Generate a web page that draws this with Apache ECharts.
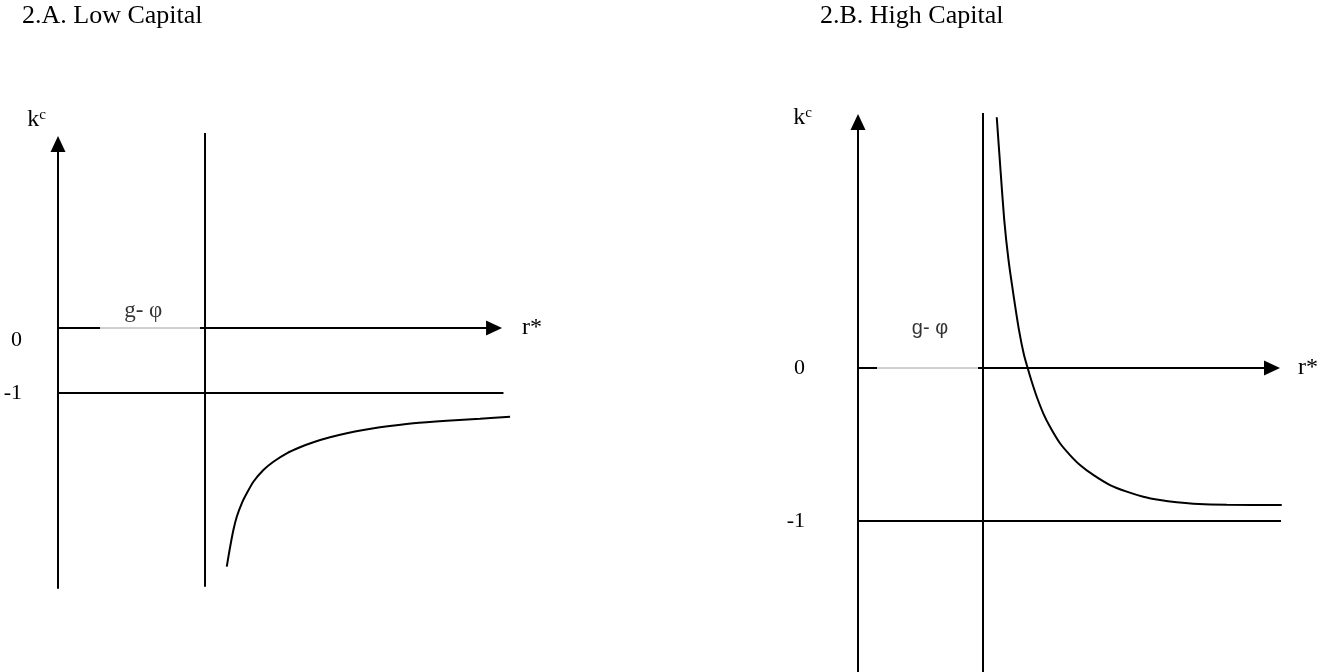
<!DOCTYPE html>
<html>

<head>
    <meta charset="utf-8">
    <title>Low / High Capital</title>
    <style>
        html, body { margin: 0; background: #fff; }
    </style>
</head>

<body>

    <div id="chart" style="width: 1338px;height: 672px;"></div>

    <script src="https://cdn.jsdelivr.net/npm/echarts@6.0.0/dist/echarts.min.js"></script>
    <script>
        const chart = echarts.init(document.getElementById('chart'));

        // panel titles
        const titles = ['2.A. Low Capital', '2.B. High Capital'];
        // labels
        const kTicks = [0, -1];
        const gapLabel = 'g- φ';
        // r* = g - φ (vertical asymptote), in both panels
        const gPhi = 1;

        // 2.A low capital: curve under -1
        const lowR = [1.148, 1.167, 1.193, 1.216, 1.250, 1.284, 1.329, 1.397, 1.465, 1.556, 1.646, 1.737,
            1.850, 1.964, 2.077, 2.190, 2.417, 2.644, 2.871, 3.075];
        const lowK = [-3.672, -3.415, -3.108, -2.903, -2.697, -2.543, -2.365, -2.185, -2.057, -1.928, -1.835, -1.758,
            -1.682, -1.620, -1.569, -1.528, -1.466, -1.426, -1.395, -1.365];
        const lowAsymptoteK = [3.0, -3.98];   // vertical line top / bottom
        const lowMinusOneR = [0, 3.03];       // k = -1 line
        const lowAxisEnd = 2.966;             // end of r* arrow
        const lowGapR = [0.286, 0.966];       // thin grey part of r* axis
        const lowLabelR = 0.58;

        // 2.B high capital: curve above -1
        const highR = [1.110, 1.140, 1.170, 1.204, 1.244, 1.288, 1.328, 1.362, 1.394, 1.430, 1.482, 1.536,
            1.616, 1.696, 1.776, 1.882, 2.016, 2.150, 2.282, 2.416, 2.550, 2.682, 2.950, 3.390];
        const highK = [1.639, 1.294, 0.967, 0.706, 0.477, 0.248, 0.085, -0.013, -0.100, -0.188, -0.296, -0.384,
            -0.492, -0.569, -0.634, -0.699, -0.765, -0.808, -0.841, -0.863, -0.878, -0.887, -0.894, -0.895];
        const highAsymptoteK = [1.667, -1.987];
        const highMinusOneR = [0, 3.384];
        const highAxisEnd = 3.312;
        const highGapR = [0.152, 0.960];
        const highLabelR = 0.576;

        const font = 'Liberation Serif, Times New Roman, serif';
        const black = '#000';

        function xAxisFor(idx, max, labelGap) {
            return {
                gridIndex: idx,
                type: 'value',
                min: 0,
                max: max,
                axisLine: { show: false },
                axisTick: { show: false },
                axisLabel: { show: false },
                splitLine: { show: false },
                name: 'r*',
                nameLocation: 'end',
                nameGap: labelGap,
                nameTextStyle: {
                    color: black, fontFamily: font, fontSize: 24,
                    padding: [idx === 0 ? 12 : 4, 0, 0, 0]
                }
            };
        }

        function yAxisFor(idx, min, max, margin, nameGap, namePad) {
            return {
                gridIndex: idx,
                type: 'value',
                min: min,
                max: max,
                axisLine: {
                    show: true,
                    symbol: ['none', 'triangle'],
                    symbolSize: [15, 16],
                    lineStyle: { color: black, width: 2 }
                },
                axisTick: { show: false },
                splitLine: { show: false },
                axisLabel: {
                    show: true,
                    customValues: kTicks,
                    margin: margin,
                    color: black,
                    fontFamily: font,
                    fontSize: 22,
                    // in 2.A the "0" sits a little below the r* axis
                    formatter: v => (idx === 0 && v === 0) ? '{low|0}' : String(v),
                    rich: { low: { fontFamily: font, fontSize: 22, color: black, padding: [24, 0, 0, 0] } }
                },
                name: '{k|k}{c|c}',
                nameLocation: 'end',
                nameGap: nameGap,
                nameTextStyle: {
                    align: 'right',
                    padding: [0, namePad, 0, 0],
                    rich: {
                        k: { fontFamily: font, fontSize: 24, color: black },
                        c: { fontFamily: font, fontSize: 15, color: black, verticalAlign: 'top' }
                    }
                }
            };
        }

        function line(idx, data, color, width) {
            return {
                type: 'line',
                xAxisIndex: idx,
                yAxisIndex: idx,
                data: data,
                symbol: 'none',
                clip: false,
                silent: true,
                lineStyle: { color: color, width: width }
            };
        }

        function panelSeries(idx, curveR, curveK, asym, minusOne, axisEnd, gap, labelR) {
            // r* axis: black stub, thin grey part under the label, black arrow
            const rAxis = line(idx, [[0, 0], [gap[0], 0]], black, 2);
            rAxis.markLine = {
                silent: true,
                symbol: ['none', 'triangle'],
                symbolSize: [15, 16],
                label: { show: false },
                lineStyle: { color: black, width: 2, type: 'solid' },
                data: [[{ coord: [gap[1], 0] }, { coord: [axisEnd, 0] }]]
            };
            const curve = line(idx, curveR.map((r, i) => [r, curveK[i]]), black, 2);
            curve.smooth = 0.2;
            return [
                rAxis,
                line(idx, [[gap[0], 0], [gap[1], 0]], '#a0a0a0', 1),
                line(idx, [[gPhi, asym[0]], [gPhi, asym[1]]], black, 2),
                line(idx, [[minusOne[0], -1], [minusOne[1], -1]], black, 2),
                curve,
                {
                    type: 'scatter',
                    xAxisIndex: idx,
                    yAxisIndex: idx,
                    symbolSize: 0,
                    silent: true,
                    data: [[labelR, 0]],
                    label: {
                        show: true,
                        position: 'top',
                        distance: idx === 0 ? 6 : 30,
                        formatter: gapLabel,
                        color: black,
                        fontFamily: idx === 0 ? font : 'Liberation Sans, Arial, sans-serif',
                        fontSize: idx === 0 ? 23 : 20
                    }
                }
            ];
        }

        const option = {
            backgroundColor: '#fff',
            animation: false,
            title: [
                { text: titles[0], left: 22, top: 3, padding: 0,
                  textStyle: { fontFamily: font, fontSize: 26, fontWeight: 'normal', color: black } },
                { text: titles[1], left: 820, top: 3, padding: 0,
                  textStyle: { fontFamily: font, fontSize: 26, fontWeight: 'normal', color: black } }
            ],
            grid: [
                { left: 58, right: 826, top: 144, bottom: 84 },
                { left: 858, right: 54, top: 122, bottom: 0 }
            ],
            xAxis: [
                xAxisFor(0, 3.088, 10),
                xAxisFor(1, 3.408, 14)
            ],
            yAxis: [
                yAxisFor(0, -4, 2.831, 36, 12, 12),
                yAxisFor(1, -1.987, 1.608, 53, -8, 46)
            ],
            series: [].concat(
                panelSeries(0, lowR, lowK, lowAsymptoteK, lowMinusOneR, lowAxisEnd, lowGapR, lowLabelR),
                panelSeries(1, highR, highK, highAsymptoteK, highMinusOneR, highAxisEnd, highGapR, highLabelR)
            )
        };

        chart.setOption(option);
    </script>

</body>

</html>
